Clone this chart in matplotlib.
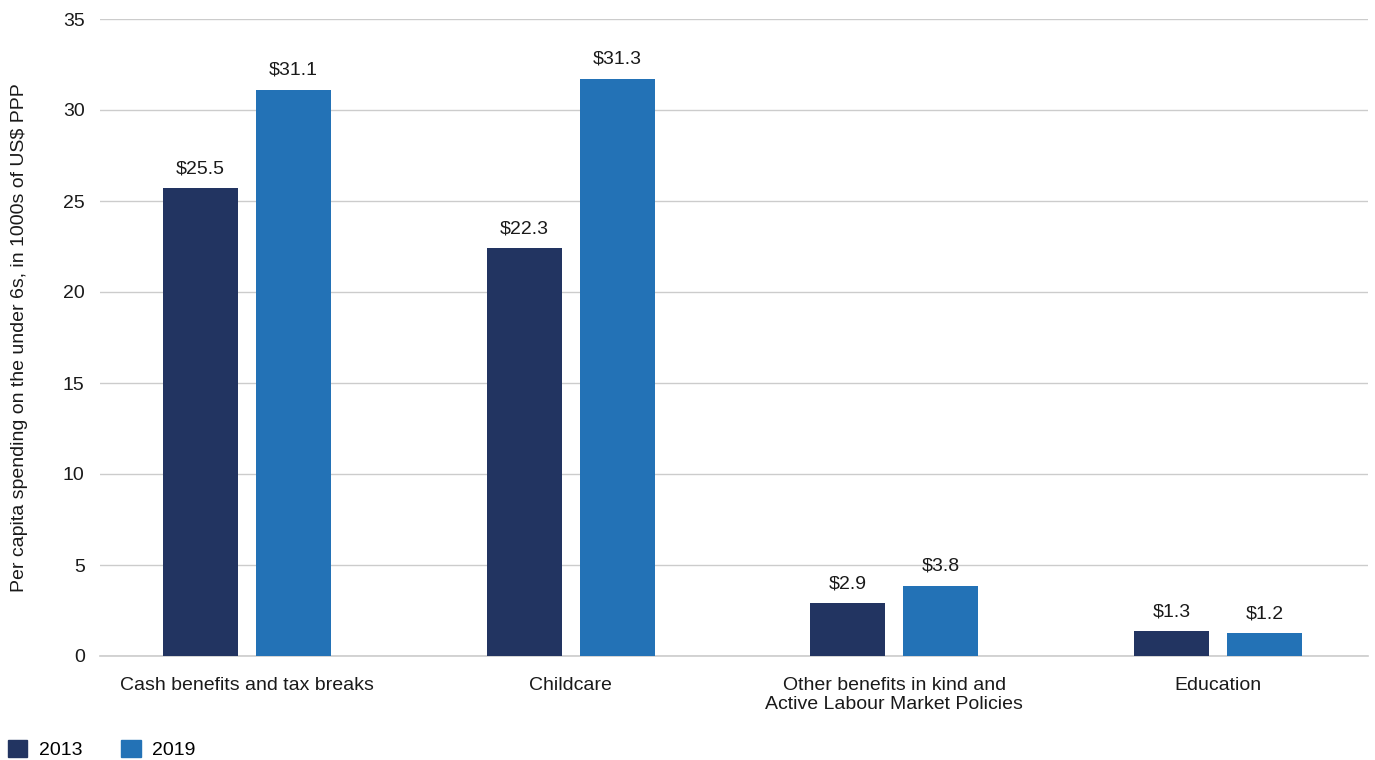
#!/usr/bin/env python3
"""Per capita spending on the under 6s, 2013 vs 2019."""

import matplotlib
matplotlib.use("Agg")
import matplotlib.pyplot as plt
import numpy as np
from matplotlib.patches import Patch

categories = [
    "Cash benefits and tax breaks",
    "Childcare",
    "Other benefits in kind and\nActive Labour Market Policies",
    "Education",
]
years = ["2013", "2019"]
values_2013 = [25.7, 22.4, 2.9, 1.35]
values_2019 = [31.1, 31.7, 3.85, 1.25]
labels_2013 = ["$25.5", "$22.3", "$2.9", "$1.3"]
labels_2019 = ["$31.1", "$31.3", "$3.8", "$1.2"]
yticks = [0, 5, 10, 15, 20, 25, 30, 35]

plt.rcParams["font.family"] = ["Liberation Sans", "DejaVu Sans"]

C13 = "#223461"
C19 = "#2372b6"
TXT = "#1a1a1a"
FS = 14

fig = plt.figure(figsize=(13.75, 7.6), dpi=100)
ax = fig.add_axes([100 / 1375, 1 - 656 / 760, 1268 / 1375, 637 / 760])

x = np.arange(len(categories))
off = 0.1437
w = 0.232
b1 = ax.bar(x - off, values_2013, width=w, color=C13, zorder=3)
b2 = ax.bar(x + off, values_2019, width=w, color=C19, zorder=3)

for bars, labs in ((b1, labels_2013), (b2, labels_2019)):
    for rect, lab in zip(bars, labs):
        ax.annotate(
            lab,
            (rect.get_x() + rect.get_width() / 2, rect.get_height()),
            xytext=(0, 8),
            textcoords="offset points",
            ha="center",
            va="bottom",
            fontsize=FS,
            color=TXT,
        )

ax.set_xlim(-0.454, 3.463)
ax.set_ylim(0, 35)
ax.set_yticks(yticks)
ax.set_xticks(x)
ax.set_xticklabels(categories, fontsize=FS, color=TXT, linespacing=1.15)
ax.tick_params(axis="y", labelsize=FS, labelcolor=TXT, length=0, pad=11)
ax.tick_params(axis="x", length=0, pad=15)
ax.grid(axis="y", color="#cccccc", linewidth=1.0, zorder=0)
ax.axhline(0, color="#cccccc", linewidth=1.2, zorder=2, clip_on=False)
for s in ax.spines.values():
    s.set_visible(False)

ax.set_ylabel(
    "Per capita spending on the under 6s, in 1000s of US$ PPP",
    fontsize=FS,
    color=TXT,
)
ax.yaxis.set_label_coords(-72 / 1268, 0.5)

handles = [Patch(color=C13), Patch(color=C19)]
fig.legend(
    handles,
    years,
    loc="lower left",
    bbox_to_anchor=(-0.007, -0.022),
    ncol=2,
    frameon=False,
    fontsize=FS,
    handlelength=1.0,
    handleheight=1.0,
    handletextpad=0.6,
    columnspacing=2.0,
)

fig.savefig("out.png", dpi=100)
